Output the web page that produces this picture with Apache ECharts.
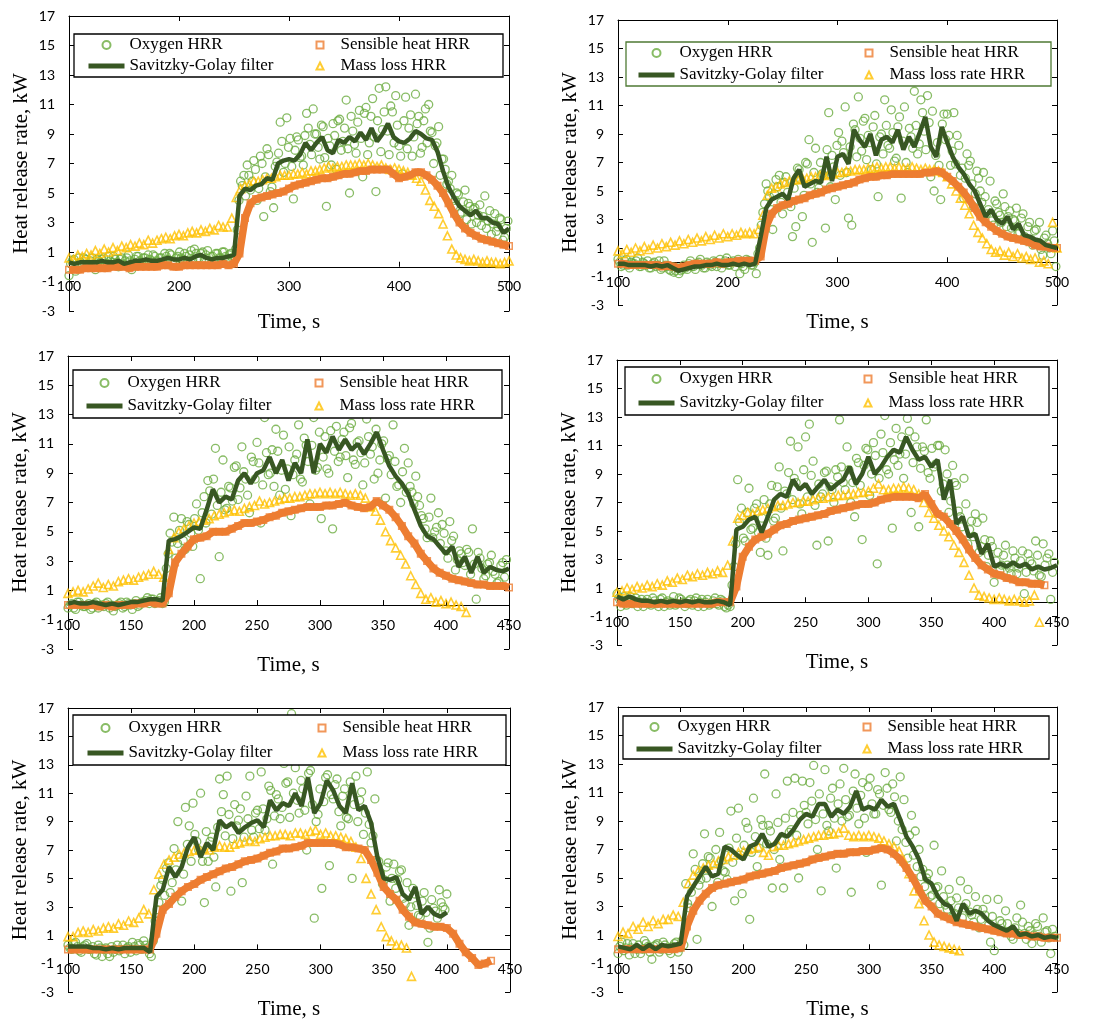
<!DOCTYPE html>
<html>
<head>
<meta charset="utf-8">
<title>Heat release rate</title>
<script src="https://cdn.jsdelivr.net/npm/echarts@6.0.0/dist/echarts.min.js"></script>
<style>
    html, body { margin: 0; padding: 0; background: #fff; }
    #chart { width: 1103px; height: 1023px; }
</style>
</head>
<body>
<div id="chart"></div>
<script>
/* time grid: every series starts at 100 s, the "mid" oxygen readings at 101.5 s */
var startTime = 100, midStart = 101.5;
var oxygenStep = 3, savgolStep = 5, sensibleStep = 5, massStep = 4;

var yTicks = [-3, -1, 1, 3, 5, 7, 9, 11, 13, 15, 17];

/* ---------- panel 1 ---------- */
var p1Oxygen = [
    -0.6, 0.4, -0.3, 0.6, 0.2, 0.5, 0.1, 0.6, -0.2, 0.4,
    0.5, 0.1, 0.7, 0.3, 0.5, 0.0, 0.6, 0.4, 0.8, -0.2,
    0.5, 0.7, 0.3, 0.6, 0.8, 0.4, 0.7, 0.2, 0.6, 0.9,
    0.5, 0.8, 0.3, 0.7, 0.6, 0.9, 0.4, 1.1, 1.2, 0.6,
    0.9, 0.5, 1.1, 0.7, 0.4, 0.9, 0.6, 1.0, 0.5, 0.9,
    0.7,
    2.5, 5.8, 6.2, 6.9, 5.2, 7.2, 4.5, 7.5, 3.4, 8.0,
    5.1, 4.0, 7.1, 9.8, 6.4, 10.1, 8.7, 4.6, 8.8, 7.4,
    6.9, 10.4, 8.3, 10.7, 9.0, 7.3, 9.5, 4.1, 8.2, 9.7,
    6.6, 10.0, 8.5, 11.3, 5.0, 9.2, 7.7, 10.6, 6.1, 10.8,
    8.4, 11.4, 5.1, 12.1, 9.3, 12.2, 7.6, 10.5, 11.6, 8.2,
    6.3, 11.5, 9.4, 7.5, 11.7, 10.2, 8.1, 10.7, 11.0, 9.1,
    8.2, 9.5, 7.3, 6.6, 5.8, 6.2, 4.5, 4.9, 3.7, 5.2,
    4.3, 2.9, 4.0, 3.5, 2.8, 4.8, 3.1, 2.2, 3.6, 2.7,
    3.2, 2.0, 3.1
];
var p1OxygenMid = [
    0.2, 0.5, 0.0, 0.3, 0.6, 0.1, 0.4, 0.2, 0.5, 0.3,
    0.6, 0.2, 0.4, 0.7, 0.3, 0.5, 0.2, 0.6, 0.4, 0.3,
    0.7, 0.4, 0.6, 0.2, 0.5, 0.8, 0.4, 0.6, 0.3, 0.7,
    0.9, 0.4, 0.6, 1.0, 0.5, 0.7, 0.8, 0.5, 0.9, 0.6,
    1.0, 0.8, 0.4, 0.7, 0.9, 0.6, 1.0, 0.7, 0.8, 0.6,
    1.2, 4.5, 5.5, 4.8, 6.2, 5.8, 6.6, 5.3, 7.0, 6.1,
    7.6, 5.4, 6.8, 7.7, 8.5, 7.0, 8.1, 6.8, 7.9, 8.6,
    7.5, 8.9, 9.4, 7.6, 9.0, 8.1, 9.6, 7.4, 8.7, 6.9,
    8.9, 9.9, 7.9, 9.4, 8.0, 10.2, 8.3, 9.8, 8.7, 10.4,
    7.6, 10.2, 8.8, 9.9, 7.8, 10.5, 9.2, 10.9, 8.4, 9.6,
    7.5, 9.9, 8.0, 10.3, 8.8, 9.7, 7.7, 9.9, 8.4, 9.2,
    7.0, 8.4, 6.2, 7.3, 5.6, 5.3, 4.1, 5.0, 3.6, 4.4,
    3.2, 4.1, 3.9, 3.0, 4.2, 3.4, 2.6, 3.8, 2.9, 2.4,
    3.3, 1.8, 2.6
];
var p1Savgol = [
    0.3, 0.2, 0.3, 0.3, 0.3, 0.3, 0.4, 0.3, 0.3, 0.4,
    0.2, 0.3, 0.4, 0.4, 0.5, 0.4, 0.4, 0.5, 0.6, 0.5,
    0.5, 0.6, 0.5, 0.7, 0.8, 0.6, 0.5, 0.6, 0.6, 0.7,
    0.8, 4.8, 5.3, 5.2, 5.5, 5.6, 6.0, 5.9, 7.0, 7.2,
    7.3, 7.2, 7.6, 8.4, 7.9, 8.4, 8.8, 7.9, 7.7, 8.6,
    8.4, 8.8, 8.5, 9.1, 8.6, 9.4, 8.5, 9.0, 9.7, 8.8,
    8.5, 8.4, 8.7, 9.2, 9.0, 8.7, 8.6, 7.8, 6.5, 5.4,
    4.7, 4.1, 3.8, 3.5, 3.8, 3.3, 3.3, 3.0, 2.9, 2.3,
    2.6
];
var p1Sensible = [
    -0.2, -0.2, -0.2, -0.1, -0.1, -0.1, -0.1, -0.1, 0.0, 0.0,
    0.0, -0.1, 0.0, 0.0, 0.0, 0.0, 0.0, 0.1, 0.1, 0.0,
    0.0, 0.1, 0.1, 0.1, 0.1, 0.1, 0.1, 0.1, 0.2, 0.1,
    0.2, 0.9, 3.3, 4.3, 4.6, 4.7, 4.8, 4.9, 5.0, 5.1,
    5.3, 5.5, 5.6, 5.7, 5.8, 5.9, 6.0, 6.0, 6.1, 6.2,
    6.3, 6.3, 6.4, 6.5, 6.5, 6.6, 6.6, 6.6, 6.6, 6.3,
    6.0, 6.1, 6.2, 6.4, 6.4, 6.2, 5.9, 5.5, 5.0, 4.3,
    3.6, 3.0, 2.6, 2.3, 2.1, 1.9, 1.8, 1.7, 1.6, 1.5,
    1.4
];
var p1Mass = [
    0.6, 0.5, 0.8, 0.7, 0.9, 0.8, 1.1, 0.9, 1.2, 1.0,
    1.3, 1.1, 1.4, 1.3, 1.5, 1.4, 1.6, 1.5, 1.8, 1.6,
    1.8, 1.9, 2.0, 1.9, 2.1, 2.2, 2.1, 2.3, 2.4, 2.3,
    2.5, 2.4, 2.6, 2.5, 2.8, 2.7, 2.7, 3.3, 4.7, 5.3,
    5.5, 5.6, 5.8, 5.8, 5.9, 6.0, 6.0, 6.1, 6.2, 6.2,
    6.2, 6.3, 6.3, 6.4, 6.3, 6.5, 6.5, 6.6, 6.7, 6.8,
    6.7, 6.8, 6.8, 6.9, 6.9, 6.9, 7.0, 6.9, 7.0, 6.9,
    6.8, 6.9, 6.7, 6.6, 6.7, 6.6, 6.5, 6.4, 6.2, 6.0,
    5.8, 5.2, 4.5, 4.1, 3.6, 2.9, 2.1, 1.2, 0.8, 0.6,
    0.5, 0.4, 0.5, 0.4, 0.3, 0.4, 0.3, 0.3, 0.2, 0.3,
    0.4
];

/* ---------- panel 2 ---------- */
var p2Oxygen = [
    0.2, -0.3, 0.1, -0.2, 0.0, -0.1, 0.3, -0.3, -0.1, 0.1,
    -0.4, 0.0, -0.2, -0.5, 0.1, -0.3, -0.6, -0.7, -0.4, -0.6,
    -0.2, -0.5, 0.1, -0.3, -0.1, 0.2, -0.4, 0.0, -0.2, 0.1,
    -0.3, 0.2, -0.1, 0.3, -0.2, 0.1, 0.0, -0.8, -0.3, 0.2,
    0.1, -0.2, -0.8, 1.0, 3.5, 5.5, 4.6, 2.3, 5.8, 6.1,
    3.4, 6.0, 4.2, 1.8, 2.5, 6.5, 3.2, 7.0, 8.6, 1.4,
    8.0, 5.2, 6.2, 2.4, 10.5, 7.5, 4.4, 9.1, 8.5, 10.9,
    3.1, 2.6, 9.3, 11.6, 7.8, 10.1, 8.9, 6.5, 10.3, 4.6,
    9.0, 11.4, 8.2, 10.7, 7.1, 9.5, 4.5, 10.9, 6.3, 8.8,
    12.0, 7.6, 11.4, 9.2, 11.7, 6.0, 5.0, 8.4, 4.4, 10.4,
    10.4, 6.8, 10.5, 8.9, 6.1, 4.5, 7.6, 7.1, 3.9, 6.4,
    5.0, 6.3, 3.4, 5.7, 2.6, 4.1, 3.3, 4.8, 2.5, 3.6,
    3.0, 3.8, 2.1, 3.4, 1.5, 2.8, 1.2, 2.3, 2.8, 0.5,
    1.9, 1.0, 2.2, -0.3
];
var p2OxygenMid = [
    0.0, -0.2, 0.2, -0.4, -0.1, 0.1, -0.3, 0.0, -0.2, -0.4,
    -0.1, -0.3, 0.1, -0.4, -0.2, -0.5, -0.3, -0.6, -0.8, -0.5,
    -0.4, -0.1, -0.3, -0.5, 0.0, -0.2, -0.4, -0.1, -0.3, 0.0,
    -0.1, -0.4, 0.1, -0.2, 0.0, -0.3, 0.2, -0.1, -0.5, 0.1,
    -0.2, 0.0, 0.6, 2.6, 4.1, 5.0, 3.7, 4.8, 5.3, 4.2,
    5.6, 4.9, 3.9, 5.2, 6.6, 5.8, 4.7, 6.9, 5.5, 6.3,
    4.9, 7.0, 6.1, 7.9, 5.3, 6.7, 8.2, 6.1, 7.7, 6.3,
    8.1, 9.7, 7.4, 8.7, 9.9, 7.2, 8.4, 9.5, 6.9, 8.8,
    7.6, 9.6, 8.0, 9.1, 7.3, 10.2, 8.5, 7.0, 9.4, 8.0,
    9.6, 8.3, 10.5, 7.9, 9.8, 10.6, 7.5, 6.8, 9.7, 8.6,
    8.9, 7.8, 6.9, 8.2, 6.6, 5.9, 6.8, 5.5, 4.8, 5.9,
    4.2, 4.6, 3.7, 2.9, 4.3, 3.5, 2.8, 3.9, 3.2, 2.4,
    2.9, 2.0, 3.1, 1.8, 2.5, 1.6, 2.2, 1.4, 0.9, 1.7,
    1.3, 0.6, 1.5
];
var p2Savgol = [
    -0.1, -0.1, -0.2, -0.2, -0.2, -0.2, -0.3, -0.2, -0.3, -0.2,
    -0.4, -0.6, -0.5, -0.4, -0.3, -0.3, -0.2, -0.2, -0.1, -0.2,
    -0.2, -0.1, -0.2, -0.1, -0.2, -0.1, 1.8, 3.8, 4.4, 4.6,
    4.8, 4.4, 5.9, 6.5, 5.3, 5.5, 5.7, 5.6, 7.4, 5.7,
    7.4, 7.6, 6.9, 9.3, 8.6, 8.1, 9.0, 7.5, 8.6, 8.8,
    8.4, 9.3, 7.9, 8.8, 8.1, 9.1, 10.2, 8.1, 7.4, 9.5,
    8.4, 7.4, 6.7, 6.2, 5.5, 5.0, 4.1, 3.2, 3.7, 3.0,
    2.7, 3.2, 2.3, 2.7, 1.9, 1.8, 1.6, 1.5, 1.2, 1.1,
    1.0
];
var p2Sensible = [
    -0.1, -0.1, -0.2, -0.2, -0.2, -0.2, -0.2, -0.2, -0.3, -0.2,
    -0.3, -0.4, -0.3, -0.2, -0.1, -0.1, -0.1, -0.1, 0.0, -0.1,
    0.0, 0.0, 0.1, 0.1, 0.1, 0.1, 0.4, 2.5, 3.4, 3.8,
    4.0, 4.1, 4.3, 4.4, 4.5, 4.7, 4.8, 4.9, 5.1, 5.2,
    5.3, 5.4, 5.5, 5.6, 5.8, 5.9, 6.0, 6.0, 6.1, 6.1,
    6.2, 6.2, 6.2, 6.2, 6.2, 6.2, 6.3, 6.3, 6.4, 6.3,
    6.0, 5.7, 5.3, 4.9, 4.4, 3.8, 3.2, 2.8, 2.5, 2.2,
    2.0, 1.8, 1.7, 1.6, 1.5, 1.4, 1.2, 1.1, 1.1, 1.0,
    1.0
];
var p2Mass = [
    0.8, 0.6, 0.9, 0.7, 1.0, 0.8, 1.1, 0.9, 1.2, 1.0,
    1.3, 1.1, 1.4, 1.2, 1.5, 1.3, 1.6, 1.4, 1.7, 1.5,
    1.8, 1.6, 1.9, 1.7, 2.0, 1.8, 2.0, 1.9, 2.1, 2.0,
    2.1, 2.0, 2.3, 3.3, 4.7, 5.2, 5.3, 5.5, 5.6, 5.7,
    5.8, 5.8, 5.9, 5.9, 6.0, 6.0, 6.1, 6.1, 6.2, 6.2,
    6.3, 6.3, 6.4, 6.4, 6.5, 6.5, 6.5, 6.6, 6.6, 6.7,
    6.6, 6.7, 6.7, 6.6, 6.7, 6.6, 6.6, 6.7, 6.6, 6.5,
    6.6, 6.5, 6.5, 6.4, 6.3, 6.0, 5.5, 5.0, 4.5, 4.0,
    3.4, 2.6, 2.1, 1.7, 1.3, 0.9, 0.7, 0.8, 0.5, 0.7,
    0.4, 0.6, 0.3, 0.4, 0.2, 0.3, 0.0, 0.1, -0.1, 2.8,
    1.0
];

/* ---------- panel 3 ---------- */
var p3Oxygen = [
    -0.2, 0.1, -0.3, 0.2, -0.1, 0.0, -0.3, 0.1, -0.2, 0.0,
    0.1, -0.2, -0.4, 0.0, 0.2, -0.1, 0.1, -0.3, 0.3, 0.0,
    0.2, 0.5, 0.4, 0.1, 0.3, 0.1, 2.5, 4.9, 6.0, 4.2,
    5.9, 3.8, 5.5, 4.0, 6.9, 1.8, 7.4, 8.5, 6.2, 10.7,
    3.3, 9.9, 6.6, 8.0, 9.4, 7.2, 10.8, 8.6, 6.3, 9.8,
    11.1, 5.6, 12.8, 8.9, 10.6, 12.0, 7.5, 11.6, 9.3, 6.1,
    9.9, 12.3, 8.4, 10.9, 6.9, 12.8, 9.4, 5.9, 11.5, 9.0,
    5.2, 12.2, 10.1, 11.8, 8.7, 12.4, 9.6, 11.2, 8.2, 12.7,
    10.3, 8.6, 9.0, 11.0, 7.3, 10.2, 12.3, 8.1, 7.0, 10.7,
    9.7, 7.7, 8.8, 6.8, 5.9, 4.6, 7.3, 5.0, 6.3, 5.5,
    3.7, 5.7, 4.7, 3.1, 3.5, 2.7, 3.6, 5.2, 0.4, 3.2,
    1.8, 2.8, 3.4, 2.1, 1.6, 2.9, 3.1
];
var p3OxygenMid = [
    0.0, -0.2, 0.2, 0.0, -0.1, 0.1, -0.2, 0.2, 0.0, -0.1,
    0.2, 0.0, -0.1, 0.1, -0.2, 0.2, 0.0, 0.1, -0.1, 0.2,
    0.3, 0.1, 0.4, 0.2, 0.5, 0.2, 3.5, 4.3, 3.2, 5.1,
    4.4, 5.7, 4.9, 5.9, 5.1, 6.3, 5.6, 7.8, 8.6, 6.8,
    7.7, 6.5, 8.1, 7.1, 9.5, 8.0, 9.1, 7.5, 10.1, 8.6,
    9.7, 8.2, 10.4, 9.0, 8.1, 10.5, 9.2, 7.9, 10.8, 8.9,
    10.3, 8.6, 11.4, 9.8, 10.9, 9.2, 11.8, 10.1, 9.3, 11.9,
    10.5, 9.8, 11.3, 10.2, 12.1, 9.9, 11.1, 10.4, 9.7, 11.5,
    10.8, 12.0, 9.9, 11.2, 10.0, 8.9, 9.8, 8.2, 9.1, 7.7,
    8.1, 6.9, 7.4, 6.1, 5.2, 6.0, 4.6, 5.3, 4.2, 4.9,
    3.2, 4.4, 2.4, 3.7, 2.9, 3.8, 2.1, 2.8, 3.6, 2.5,
    2.0, 2.9, 2.3, 1.5, 2.7, 1.9
];
var p3Savgol = [
    0.1, 0.2, 0.1, 0.1, 0.2, 0.1, 0.0, 0.1, 0.0, 0.1,
    0.2, 0.2, 0.3, 0.4, 0.4, 0.3, 4.4, 4.5, 4.7, 5.0,
    5.3, 5.2, 6.5, 7.9, 7.0, 7.4, 7.2, 8.5, 9.0, 8.3,
    9.0, 9.2, 10.1, 9.0, 9.9, 8.5, 9.7, 9.0, 11.3, 9.0,
    11.0, 10.4, 11.5, 10.6, 11.3, 10.6, 11.0, 10.3, 11.0, 11.8,
    10.6, 9.5, 8.8, 8.3, 7.6, 6.5, 5.4, 4.7, 4.5, 4.0,
    3.5, 4.0, 2.6, 3.3, 2.2, 3.3, 2.2, 2.6, 2.4, 2.3,
    2.5
];
var p3Sensible = [
    0.0, 0.0, 0.0, 0.0, 0.0, -0.1, 0.0, -0.1, 0.0, 0.0,
    0.0, 0.1, 0.1, 0.2, 0.1, 0.1, 0.8, 2.9, 3.5, 4.0,
    4.5, 4.6, 4.7, 5.0, 5.0, 5.0, 5.2, 5.4, 5.6, 5.6,
    5.7, 5.8, 6.0, 6.1, 6.3, 6.4, 6.5, 6.6, 6.7, 6.7,
    6.7, 6.8, 6.8, 6.9, 7.0, 6.8, 6.7, 6.6, 6.7, 7.1,
    6.8, 6.5, 6.0, 5.4, 4.7, 4.2, 3.5, 3.0, 2.5, 2.2,
    2.0, 1.8, 1.7, 1.6, 1.5, 1.4, 1.4, 1.3, 1.3, 1.3,
    1.2
];
var p3Mass = [
    0.8, 0.9, 1.0, 0.9, 1.1, 1.3, 1.5, 1.2, 1.4, 1.3,
    1.6, 1.7, 1.8, 1.7, 1.9, 2.0, 2.1, 2.3, 2.1, 1.9,
    3.8, 4.6, 5.0, 5.2, 5.4, 5.6, 5.7, 5.8, 5.9, 6.1,
    6.2, 6.3, 6.4, 6.5, 6.4, 6.6, 6.7, 6.8, 7.1, 6.9,
    7.0, 7.1, 7.2, 7.3, 7.3, 7.4, 7.4, 7.5, 7.6, 7.6,
    7.7, 7.6, 7.7, 7.6, 7.7, 7.6, 7.5, 7.6, 7.5, 7.3,
    6.7, 6.4, 5.8, 5.0, 4.4, 3.9, 3.4, 2.8, 2.0, 1.4,
    0.8, 0.4, 0.5, 0.2, 0.3, 0.1, 0.2, 0.0, -0.1, -0.5
];

/* ---------- panel 4 ---------- */
var p4Oxygen = [
    0.6, -0.3, 0.4, 0.2, -0.1, 0.3, 0.0, -0.3, 0.2, -0.2,
    0.1, -0.3, 0.3, 0.0, -0.2, 0.4, -0.1, 0.2, -0.3, 0.1,
    -0.2, 0.3, 0.0, -0.3, 0.2, -0.1, 0.3, -0.2, 0.1, -0.4,
    -0.3, 2.5, 8.6, 6.6, 4.3, 8.0, 5.2, 6.9, 3.5, 7.2,
    3.3, 8.2, 5.9, 9.5, 3.6, 7.6, 11.3, 8.7, 10.9, 6.2,
    11.6, 12.5, 9.9, 4.0, 7.4, 9.1, 4.3, 7.9, 9.3, 12.8,
    8.4, 10.9, 7.0, 6.0, 9.8, 4.4, 10.8, 7.5, 11.2, 2.7,
    11.8, 13.1, 9.0, 5.2, 12.2, 10.4, 8.7, 12.9, 6.3, 11.6,
    5.3, 10.9, 12.8, 8.7, 9.5, 11.0, 7.8, 10.7, 6.3, 9.6,
    8.2, 6.0, 8.7, 4.1, 5.7, 6.2, 3.5, 5.9, 2.5, 4.3,
    1.4, 3.5, 2.6, 4.0, 2.4, 3.6, 2.0, 2.9, 0.6, 3.4,
    2.7, 4.3, 1.9, 4.1, 3.1, 0.2, 2.8
];
var p4OxygenMid = [
    0.3, 0.1, -0.2, 0.4, 0.1, -0.3, 0.2, 0.0, -0.1, 0.3,
    -0.1, 0.2, -0.3, 0.1, 0.0, -0.2, 0.3, 0.0, -0.1, 0.2,
    0.1, -0.3, 0.2, 0.0, -0.2, 0.1, -0.1, 0.2, -0.3, -0.2,
    1.2, 4.1, 5.6, 4.5, 6.3, 5.1, 6.6, 4.9, 5.9, 4.5,
    6.9, 5.7, 8.1, 6.6, 7.8, 9.1, 7.2, 8.4, 6.9, 9.3,
    7.4, 8.9, 6.8, 8.3, 7.6, 9.2, 8.1, 7.0, 8.8, 9.5,
    7.9, 9.3, 8.4, 10.1, 8.2, 9.6, 10.7, 9.0, 10.3, 8.7,
    10.5, 9.3, 11.2, 10.0, 9.6, 11.6, 10.4, 12.0, 9.8, 10.9,
    9.4, 10.6, 9.1, 10.8, 9.7, 11.0, 8.3, 9.0, 7.1, 8.4,
    6.4, 5.3, 6.9, 5.1, 4.6, 5.6, 3.9, 4.4, 3.3, 3.9,
    2.9, 2.2, 3.3, 2.6, 2.0, 3.1, 2.4, 3.6, 2.1, 2.9,
    2.2, 3.3, 1.8, 2.6, 3.4, 2.1
];
var p4Savgol = [
    0.4, 0.2, 0.4, 0.2, 0.1, 0.1, 0.0, 0.1, 0.0, 0.1,
    0.0, 0.1, 0.0, 0.1, 0.0, 0.0, 0.1, 0.0, -0.2, 5.1,
    5.3, 5.8, 6.0, 4.9, 6.0, 7.2, 7.6, 7.4, 8.6, 7.9,
    8.3, 7.6, 8.1, 8.6, 7.9, 8.3, 8.6, 9.5, 8.3, 9.0,
    10.2, 9.0, 9.5, 10.2, 10.7, 10.5, 11.6, 10.7, 10.0, 10.2,
    9.5, 10.0, 7.2, 8.6, 5.5, 6.0, 4.6, 4.8, 3.4, 4.1,
    2.5, 2.7, 2.5, 2.8, 2.5, 2.7, 2.3, 2.5, 2.3, 2.4,
    2.6
];
var p4Sensible = [
    0.0, -0.1, -0.1, -0.1, -0.1, -0.1, -0.1, -0.1, -0.1, -0.1,
    -0.1, -0.1, -0.1, -0.1, -0.1, -0.1, 0.0, 0.0, 0.0, 1.1,
    3.2, 3.9, 4.4, 4.6, 4.8, 5.1, 5.4, 5.5, 5.7, 5.8,
    5.9, 6.0, 6.1, 6.2, 6.4, 6.5, 6.6, 6.7, 6.8, 6.9,
    6.9, 7.0, 7.2, 7.3, 7.4, 7.4, 7.4, 7.4, 7.3, 7.6,
    6.9, 6.2, 6.0, 5.5, 5.0, 4.4, 3.7, 3.1, 2.6, 2.3,
    2.0, 1.9, 1.7, 1.6, 1.4, 1.4, 1.3, 1.3, 1.2
];
var p4Mass = [
    0.7, 0.8, 1.0, 0.9, 1.1, 1.0, 1.2, 1.1, 1.3, 1.2,
    1.5, 1.4, 1.7, 1.6, 1.9, 1.8, 2.0, 1.9, 2.1, 2.0,
    2.2, 2.1, 2.6, 4.3, 5.9, 6.1, 6.3, 6.2, 6.4, 6.5,
    6.6, 6.7, 6.8, 6.8, 6.9, 7.0, 7.0, 7.1, 7.1, 7.2,
    7.3, 7.3, 7.4, 7.4, 7.5, 7.5, 7.6, 7.6, 7.7, 7.7,
    7.8, 8.0, 8.3, 7.9, 7.9, 8.0, 8.0, 8.1, 8.0, 7.9,
    7.6, 7.0, 6.3, 5.9, 5.4, 5.0, 4.6, 4.0, 3.5, 2.8,
    1.9, 1.0, 0.5, 0.4, 0.3, 0.2, 0.3, 0.2, 0.1, 0.2,
    0.1, 0.0, 0.1, 0.5, -1.4
];

/* ---------- panel 5 ---------- */
var p5Oxygen = [
    0.3, 0.0, 0.5, -0.1, 0.2, 0.4, 0.0, -0.3, 0.3, -0.5,
    0.1, -0.5, -0.2, 0.3, 0.0, -0.3, 0.2, 0.5, -0.1, 0.3,
    0.6, 0.1, -0.5, 2.0, 3.3, 4.9, 5.7, 4.0, 7.1, 9.0,
    3.4, 10.0, 8.7, 10.3, 7.6, 11.0, 3.3, 6.2, 7.9, 4.4,
    12.0, 10.9, 12.2, 4.1, 10.2, 9.1, 4.7, 10.8, 12.2, 7.9,
    9.8, 12.5, 8.4, 11.5, 6.0, 10.9, 9.2, 13.1, 11.8, 16.6,
    12.8, 9.6, 11.3, 7.0, 12.6, 2.2, 9.5, 4.3, 12.1, 5.9,
    10.6, 12.0, 8.7, 11.3, 9.2, 5.0, 12.2, 10.5, 8.1, 12.5,
    7.5, 10.6, 6.2, 4.6, 5.8, 3.4, 6.0, 4.9, 5.6, 3.2,
    1.7, 4.3, 3.1, 2.3, 4.0, 0.5, 3.5, 2.7, 4.2, 3.0,
    3.9
];
var p5OxygenMid = [
    0.1, 0.4, 0.2, -0.2, 0.3, 0.0, 0.2, -0.4, 0.1, 0.0,
    -0.3, 0.2, 0.0, -0.1, 0.3, 0.1, -0.2, 0.2, 0.4, 0.0,
    0.3, -0.3, 0.6, 2.8, 4.5, 3.8, 6.1, 4.7, 5.6, 6.5,
    5.3, 7.4, 6.2, 8.1, 7.0, 6.2, 8.3, 7.6, 6.5, 8.6,
    9.7, 8.0, 9.5, 7.8, 8.7, 9.9, 7.9, 9.2, 8.4, 9.6,
    8.5, 9.9, 9.2, 11.2, 9.4, 10.6, 10.0, 11.7, 9.3, 11.0,
    10.5, 11.9, 9.8, 12.4, 10.2, 9.0, 11.3, 10.4, 12.3, 10.9,
    11.6, 9.7, 10.8, 9.3, 11.8, 10.2, 9.0, 11.1, 9.6, 8.8,
    8.0, 6.3, 5.4, 4.9, 6.1, 5.0, 4.3, 5.5, 3.6, 4.7,
    3.0, 3.9, 2.4, 3.4, 2.6, 1.5, 2.9, 2.2, 3.3, 2.8
];
var p5Savgol = [
    0.2, 0.2, 0.2, 0.2, 0.1, 0.1, 0.0, 0.1, 0.0, 0.1,
    0.1, 0.1, 0.1, -0.2, 3.7, 4.2, 5.8, 5.1, 5.8, 7.2,
    7.9, 6.5, 7.5, 7.0, 9.1, 8.6, 8.9, 8.2, 8.6, 8.9,
    9.1, 8.6, 10.5, 9.8, 10.3, 10.1, 11.0, 10.1, 12.1, 9.6,
    10.3, 11.9, 11.2, 10.1, 9.6, 11.7, 9.8, 10.1, 8.9, 6.5,
    5.0, 4.9, 5.1, 3.9, 3.5, 4.4, 2.5, 3.0, 2.5, 2.3,
    2.6
];
var p5Sensible = [
    0.0, 0.0, 0.0, 0.0, 0.0, 0.0, 0.0, 0.0, 0.0, 0.0,
    0.0, 0.0, 0.0, 0.0, 1.1, 2.8, 3.2, 3.7, 4.1, 4.4,
    4.6, 4.9, 5.1, 5.3, 5.5, 5.7, 5.8, 6.0, 6.2, 6.3,
    6.4, 6.6, 6.8, 6.9, 7.1, 7.1, 7.2, 7.3, 7.5, 7.5,
    7.5, 7.5, 7.5, 7.4, 7.2, 7.2, 7.1, 7.0, 6.3, 5.4,
    4.4, 3.9, 3.5, 2.8, 2.3, 1.9, 1.8, 1.7, 1.6, 1.6,
    1.5, 1.1, 0.4, -0.2, -0.6, -1.1, -1.0, -0.8
];
var p5Mass = [
    0.9, 0.9, 1.2, 1.3, 1.2, 1.4, 1.3, 1.5, 1.6, 1.5,
    1.8, 1.7, 2.0, 1.9, 2.2, 2.8, 2.5, 4.2, 5.3, 6.0,
    6.3, 6.5, 6.7, 6.8, 6.9, 7.0, 7.0, 7.1, 7.0, 7.2,
    7.3, 7.2, 7.2, 7.4, 7.5, 7.6, 7.7, 7.6, 7.8, 7.9,
    8.0, 8.0, 8.1, 8.1, 8.0, 8.2, 8.2, 8.1, 8.3, 8.4,
    8.1, 8.2, 8.0, 8.0, 7.9, 7.8, 7.6, 7.2, 6.4, 5.0,
    3.9, 2.8, 1.6, 0.9, 0.6, 0.3, 0.3, 0.1, -1.9
];

/* ---------- panel 6 ---------- */
var p6Oxygen = [
    -0.3, 0.5, 0.1, -0.4, 0.4, 0.0, -0.3, 0.6, 0.2, -0.7,
    0.3, -0.2, 0.5, 0.1, -0.3, 0.4, -0.2, 0.6, 4.6, 2.9,
    6.7, 0.7, 4.9, 8.1, 6.5, 3.0, 7.0, 8.2, 5.5, 4.9,
    9.7, 3.4, 9.9, 3.9, 8.9, 2.1, 10.6, 5.8, 9.1, 12.3,
    8.7, 4.3, 10.9, 6.3, 4.3, 11.8, 8.4, 12.0, 5.0, 11.8,
    9.6, 11.7, 12.9, 7.0, 4.1, 12.6, 8.3, 11.3, 5.7, 11.6,
    12.7, 9.3, 4.0, 12.3, 8.8, 11.7, 6.8, 12.0, 9.5, 11.2,
    4.5, 12.4, 9.8, 11.6, 7.6, 12.1, 10.5, 6.4, 9.4, 8.3,
    7.0, 5.6, 5.0, 3.7, 7.3, 4.4, 5.5, 3.1, 4.2, 2.3,
    3.6, 4.8, 2.9, 4.2, 2.4, 3.7, 1.5, 2.8, 3.5, 0.5,
    -0.1, 3.5, 1.8, 2.7, 1.2, 0.7, 2.2, 3.1, 1.1, 1.6,
    0.4, 1.8, 0.9, 2.2, 1.3, -0.3, 0.9
];
var p6OxygenMid = [
    0.2, -0.1, 0.4, 0.1, -0.3, 0.3, 0.0, 0.4, -0.2, 0.2,
    0.4, 0.0, 0.3, -0.1, 0.2, 0.5, 0.1, 0.3, 3.2, 4.0,
    5.6, 4.5, 6.0, 5.0, 6.4, 5.5, 4.7, 6.2, 5.4, 7.1,
    6.1, 7.8, 6.6, 7.3, 8.5, 6.8, 7.9, 7.1, 8.7, 7.4,
    8.3, 7.0, 8.9, 7.6, 9.2, 8.2, 9.6, 8.0, 9.4, 10.1,
    8.8, 10.4, 9.1, 10.9, 9.5, 8.7, 10.6, 9.2, 10.2, 9.0,
    10.5, 9.4, 11.1, 9.9, 10.8, 9.2, 11.4, 10.2, 9.5, 10.9,
    10.1, 11.3, 9.6, 10.7, 9.0, 8.4, 7.5, 8.0, 6.6, 5.8,
    5.1, 4.4, 5.3, 3.8, 4.3, 3.2, 3.7, 2.8, 3.4, 2.5,
    2.9, 2.2, 3.2, 2.6, 1.9, 2.8, 2.1, 2.4, 1.7, 2.3,
    1.4, 2.0, 1.2, 1.8, 0.9, 1.5, 1.1, 1.9, 0.7, 1.3,
    1.0, 1.6, 0.5, 1.2, 0.8, 1.4
];
var p6Savgol = [
    0.2, 0.1, 0.0, 0.3, 0.0, 0.3, 0.0, 0.3, 0.2, 0.3,
    0.4, 3.7, 4.4, 5.1, 5.8, 5.1, 5.3, 7.2, 7.0, 6.6,
    6.3, 7.2, 7.4, 8.1, 7.2, 7.4, 8.1, 7.9, 8.4, 9.1,
    9.5, 9.3, 10.2, 10.2, 9.3, 9.8, 9.5, 10.0, 11.1, 9.8,
    10.0, 9.8, 10.5, 10.0, 10.2, 9.1, 7.9, 7.2, 6.3, 4.9,
    4.6, 3.7, 3.2, 3.0, 2.0, 3.2, 2.5, 2.7, 2.5, 2.0,
    1.7, 1.5, 1.3, 1.6, 1.0, 1.1, 0.9, 1.0, 0.8, 0.9,
    0.8
];
var p6Sensible = [
    0.0, 0.0, 0.0, 0.0, 0.0, 0.0, 0.0, 0.0, 0.0, 0.0,
    0.1, 1.6, 2.7, 3.4, 3.9, 4.3, 4.5, 4.6, 4.7, 4.8,
    4.9, 5.1, 5.2, 5.3, 5.4, 5.5, 5.7, 5.8, 5.9, 6.0,
    6.1, 6.3, 6.4, 6.5, 6.6, 6.7, 6.7, 6.8, 6.8, 6.9,
    6.9, 7.0, 7.1, 7.0, 6.7, 6.3, 5.7, 5.0, 4.2, 3.4,
    3.0, 2.5, 2.3, 2.1, 1.9, 1.8, 1.7, 1.6, 1.5, 1.4,
    1.3, 1.2, 1.1, 1.1, 1.0, 1.0, 0.9, 0.9, 0.8, 0.8,
    0.8
];
var p6Mass = [
    0.9, 1.2, 1.1, 1.6, 1.4, 1.9, 1.6, 2.0, 1.8, 2.1,
    2.1, 2.4, 2.3, 3.3, 4.6, 5.2, 5.5, 5.7, 5.9, 6.0,
    6.2, 6.3, 6.5, 6.6, 6.8, 6.9, 7.0, 7.1, 7.2, 6.8,
    6.6, 7.2, 7.3, 7.3, 7.4, 7.5, 7.6, 7.7, 7.8, 7.9,
    8.0, 8.0, 8.1, 8.1, 8.2, 8.5, 8.0, 7.9, 8.0, 7.9,
    8.0, 7.9, 7.8, 7.6, 7.4, 7.2, 6.9, 6.2, 5.3, 4.1,
    3.2, 2.0, 1.0, 0.5, 0.3, 0.2, 0.1, 0.0, -0.1
];

/* layout of the six panels */
var panels = [
    {grid: [69, 16, 440, 295], xMax: 500, xStep: 100,
        oxygen: p1Oxygen, oxygenMid: p1OxygenMid, savgol: p1Savgol, sensible: p1Sensible, mass: p1Mass,
        massName: 'Mass loss HRR', legL: 86, legR: 319, legTop: 35, legGap: 1, box: [74, 34, 429, 43], boxColor: '#000', xNameGap: 45},
    {grid: [618, 20, 439, 285], xMax: 500, xStep: 100,
        oxygen: p2Oxygen, oxygenMid: p2OxygenMid, savgol: p2Savgol, sensible: p2Sensible, mass: p2Mass,
        massName: 'Mass loss rate HRR', legL: 636, legR: 868, legTop: 43, legGap: 2, box: [626, 42, 425, 44], boxColor: '#4f7a34', xNameGap: 50},
    {grid: [68, 356, 441, 293], xMax: 450, xStep: 50,
        oxygen: p3Oxygen, oxygenMid: p3OxygenMid, savgol: p3Savgol, sensible: p3Sensible, mass: p3Mass,
        massName: 'Mass loss rate HRR', legL: 84, legR: 318, legTop: 373, legGap: 3, box: [73, 370, 429, 48], boxColor: '#000', xNameGap: 50},
    {grid: [617, 360, 440, 285], xMax: 450, xStep: 50,
        oxygen: p4Oxygen, oxygenMid: p4OxygenMid, savgol: p4Savgol, sensible: p4Sensible, mass: p4Mass,
        massName: 'Mass loss rate HRR', legL: 636, legR: 867, legTop: 369, legGap: 4, box: [625, 367, 424, 48], boxColor: '#000', xNameGap: 50},
    {grid: [68, 708, 442, 284], xMax: 450, xStep: 50,
        oxygen: p5Oxygen, oxygenMid: p5OxygenMid, savgol: p5Savgol, sensible: p5Sensible, mass: p5Mass,
        massName: 'Mass loss rate HRR', legL: 85, legR: 321, legTop: 718, legGap: 5, box: [73, 715, 433, 50], boxColor: '#000', xNameGap: 50},
    {grid: [618, 707, 439, 285], xMax: 450, xStep: 50,
        oxygen: p6Oxygen, oxygenMid: p6OxygenMid, savgol: p6Savgol, sensible: p6Sensible, mass: p6Mass,
        massName: 'Mass loss rate HRR', legL: 634, legR: 866, legTop: 717, legGap: 2, box: [623, 716, 426, 43], boxColor: '#000', xNameGap: 50}
];

var green = '#6aab3f', darkGreen = '#385723', orange = '#ed7d31', yellow = '#ffc000';
var serif = 'Liberation Serif', sans = 'Lato';

function toPoints(values, step, first) {
    return values.map(function (v, i) {
        return [(first === undefined ? startTime : first) + i * step, v];
    });
}

var myChart = echarts.init(document.getElementById('chart'));
var grids = [], xAxes = [], yAxes = [], series = [], legends = [], boxes = [];
var black = {color: '#000', width: 1};
var yMin = yTicks[0], yMax = yTicks[yTicks.length - 1];

panels.forEach(function (p, i) {
    grids.push({left: p.grid[0], top: p.grid[1], width: p.grid[2], height: p.grid[3], outerBoundsMode: 'none'});

    // bottom axis is lifted up to y = 0, top one closes the frame
    var zeroLift = -p.grid[3] * (0 - yMin) / (yMax - yMin);
    xAxes.push({
        gridIndex: i, type: 'value', min: 100, max: p.xMax, interval: p.xStep, position: 'bottom', offset: zeroLift,
        axisLine: {onZero: false, lineStyle: black},
        axisTick: {show: true, inside: true, length: 5, lineStyle: black},
        axisLabel: {margin: 13, fontFamily: sans, fontSize: 14, color: '#000'},
        splitLine: {show: false},
        name: 'Time, s', nameLocation: 'middle', nameGap: p.xNameGap,
        nameTextStyle: {fontFamily: serif, fontSize: 21, color: '#000'}
    });
    xAxes.push({
        gridIndex: i, type: 'value', min: 100, max: p.xMax, interval: p.xStep, position: 'top',
        axisLine: {onZero: false, lineStyle: black},
        axisTick: {show: true, inside: true, length: 5, lineStyle: black},
        axisLabel: {show: false}, splitLine: {show: false}
    });
    yAxes.push({
        gridIndex: i, type: 'value', min: yMin, max: yMax, interval: 2, position: 'left',
        axisLine: {show: true, onZero: false, lineStyle: black},
        axisTick: {show: true, inside: true, length: 5, lineStyle: black},
        axisLabel: {margin: 14, fontFamily: sans, fontSize: 14, color: '#000'},
        splitLine: {show: false},
        name: 'Heat release rate, kW', nameLocation: 'middle', nameGap: 37,
        nameTextStyle: {fontFamily: serif, fontSize: 21, color: '#000'}
    });
    yAxes.push({
        gridIndex: i, type: 'value', min: yMin, max: yMax, interval: 2, position: 'right',
        axisLine: {show: true, onZero: false, lineStyle: black},
        axisTick: {show: true, inside: true, length: 5, lineStyle: black},
        axisLabel: {show: false}, splitLine: {show: false}
    });

    var ax = {xAxisIndex: 2 * i, yAxisIndex: 2 * i};
    var oxygenStyle = {color: 'rgba(0,0,0,0)', borderColor: green, borderWidth: 1.3};
    series.push(Object.assign({
        name: 'Oxygen HRR', type: 'scatter', symbol: 'circle', symbolSize: 8,
        itemStyle: oxygenStyle,
        data: toPoints(p.oxygen, oxygenStep)
    }, ax));
    series.push(Object.assign({
        id: 'oxygenMid' + i, type: 'scatter', symbol: 'circle', symbolSize: 8,
        itemStyle: oxygenStyle,
        data: toPoints(p.oxygenMid, oxygenStep, midStart)
    }, ax));
    series.push(Object.assign({
        id: 'sensibleBand' + i, type: 'line', symbol: 'none', silent: true,
        lineStyle: {color: orange, width: 7.5}, itemStyle: {color: orange},
        data: toPoints(p.sensible, sensibleStep)
    }, ax));
    series.push(Object.assign({
        name: 'Sensible heat HRR', type: 'scatter', symbol: 'rect', symbolSize: 6.5,
        itemStyle: {color: 'rgba(0,0,0,0)', borderColor: orange, borderWidth: 1.5},
        data: toPoints(p.sensible, sensibleStep)
    }, ax));
    series.push(Object.assign({
        name: 'Savitzky-Golay filter', type: 'line', symbol: 'none',
        lineStyle: {color: darkGreen, width: 4.5}, itemStyle: {color: darkGreen},
        data: toPoints(p.savgol, savgolStep)
    }, ax));
    series.push(Object.assign({
        name: p.massName, type: 'scatter', symbol: 'triangle', symbolSize: 8,
        itemStyle: {color: 'rgba(0,0,0,0)', borderColor: yellow, borderWidth: 1.6},
        data: toPoints(p.mass, massStep)
    }, ax));

    var legendText = {fontFamily: serif, fontSize: 17, lineHeight: 20, color: '#000'};
    legends.push({
        orient: 'vertical', left: p.legL, top: p.legTop, itemGap: p.legGap, itemWidth: 36, itemHeight: 8,
        padding: 0, selectedMode: false, textStyle: legendText,
        data: ['Oxygen HRR', {name: 'Savitzky-Golay filter', itemStyle: {opacity: 0}, lineStyle: {width: 5, color: darkGreen}}]
    });
    legends.push({
        orient: 'vertical', left: p.legR - 3.5, top: p.legTop, itemGap: p.legGap, itemWidth: 7, itemHeight: 7,
        padding: 0, selectedMode: false, textStyle: Object.assign({padding: [0, 0, 0, 12]}, legendText),
        data: ['Sensible heat HRR', p.massName]
    });

    boxes.push({
        type: 'rect', z: 3,
        shape: {x: p.box[0], y: p.box[1], width: p.box[2], height: p.box[3]},
        style: {fill: '#fff', stroke: p.boxColor, lineWidth: 1.3}
    });
});

var options = {
    animation: false,
    backgroundColor: '#fff',
    grid: grids,
    xAxis: xAxes,
    yAxis: yAxes,
    legend: legends,
    graphic: {elements: boxes},
    series: series
};
myChart.setOption(options);
</script>
</body>
</html>
